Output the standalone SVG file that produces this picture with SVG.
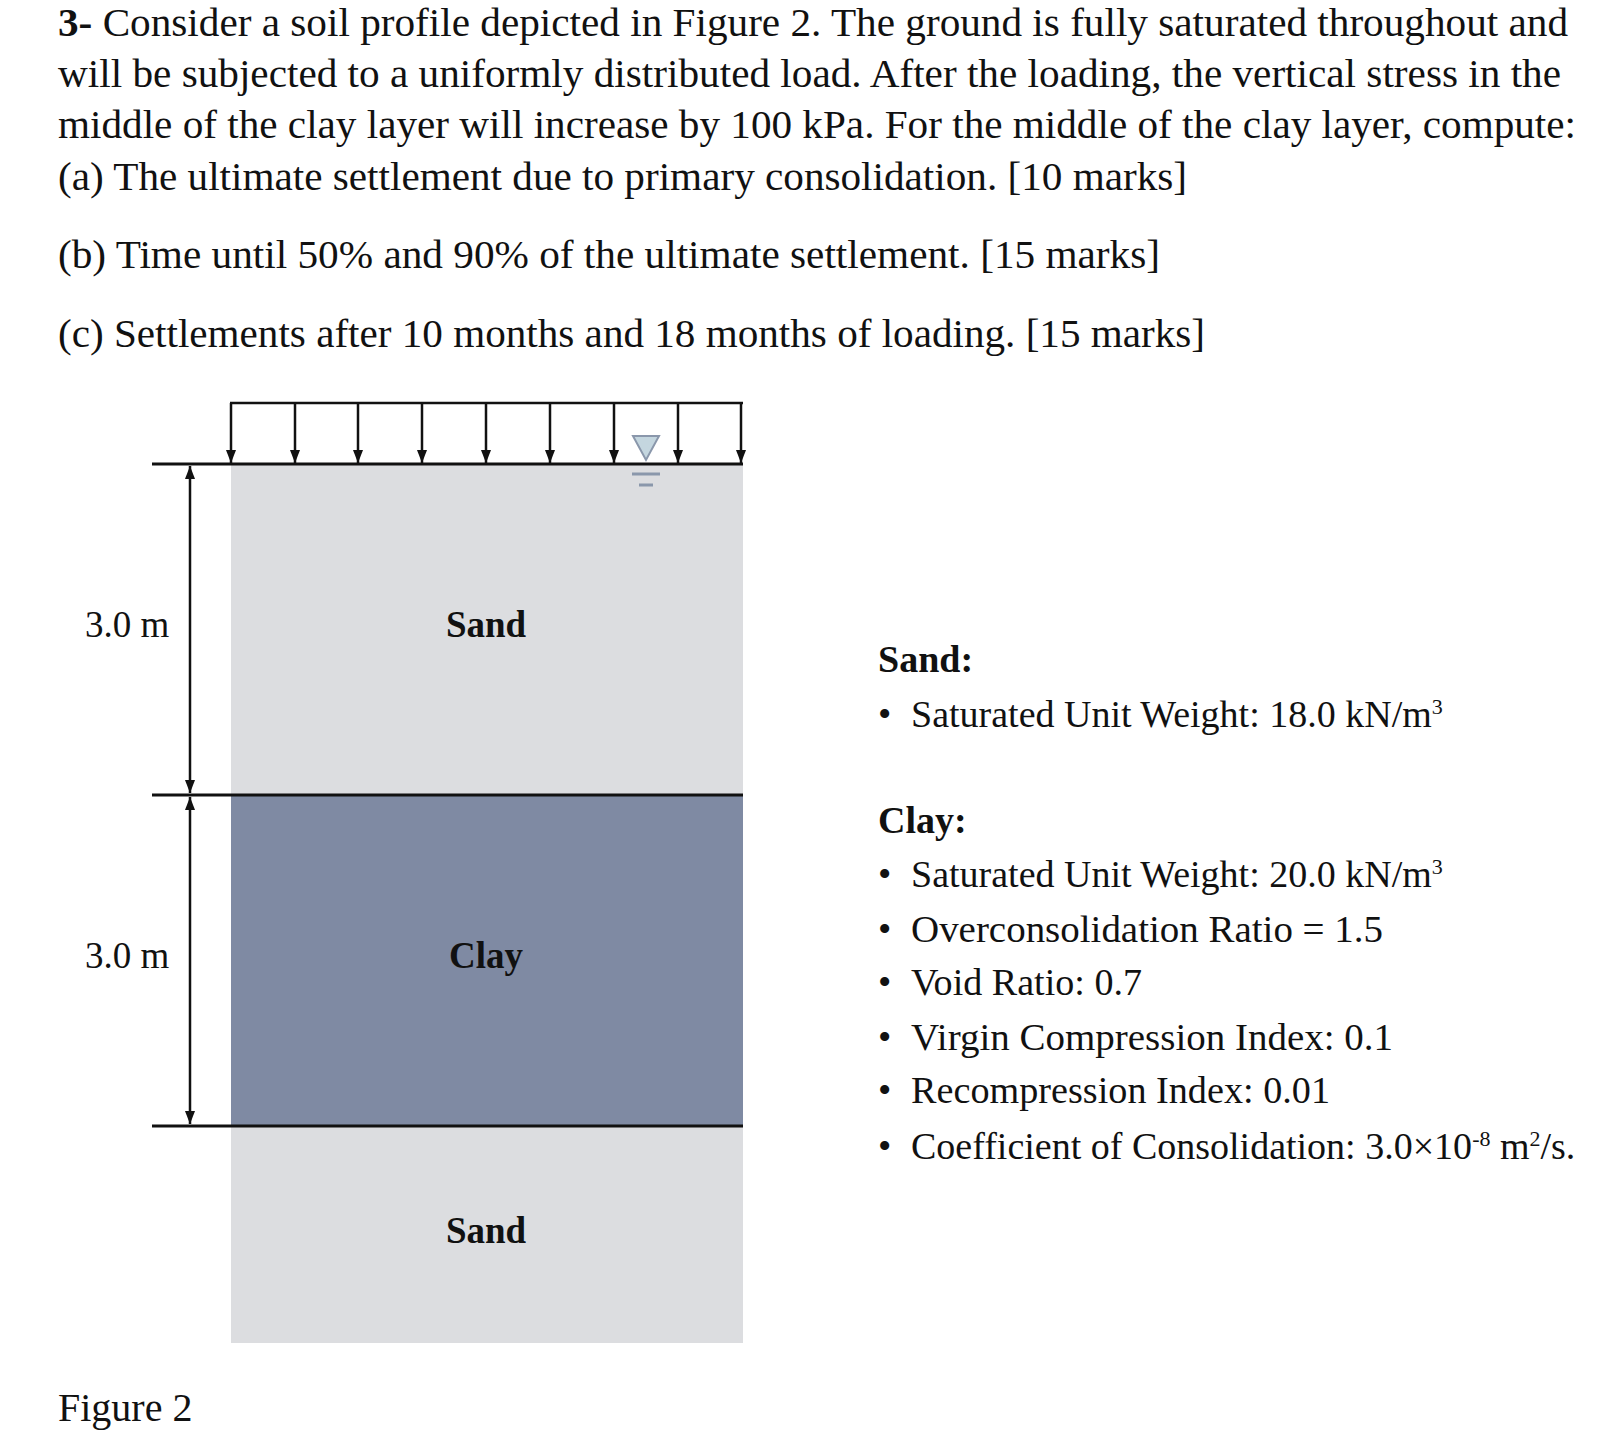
<svg xmlns="http://www.w3.org/2000/svg" width="1624" height="1456" viewBox="0 0 1624 1456">
<defs>
<style>
text{font-family:"Liberation Serif","Times New Roman",serif;fill:#111}
.q{font-size:40px}
.lb{font-size:37px}
.r{font-size:38px}
.b{font-weight:bold}
.ln{stroke:#111;stroke-width:3}
.ar{stroke:#111;stroke-width:2.5}
</style>
<marker id="ah" markerWidth="13" markerHeight="10" refX="13" refY="5" orient="auto-start-reverse" markerUnits="userSpaceOnUse" viewBox="0 0 13 10"><path d="M0,0 L13,5 L0,10z" fill="#111"/></marker>
</defs>
<rect width="1624" height="1456" fill="#fff"/>
<g id="question">
<text class="q" x="58" y="36" textLength="1510" lengthAdjust="spacingAndGlyphs"><tspan class="b">3-</tspan> Consider a soil profile depicted in Figure 2. The ground is fully saturated throughout and</text>
<text class="q" x="58" y="87" textLength="1503" lengthAdjust="spacingAndGlyphs">will be subjected to a uniformly distributed load. After the loading, the vertical stress in the</text>
<text class="q" x="58" y="138" textLength="1518" lengthAdjust="spacingAndGlyphs">middle of the clay layer will increase by 100 kPa. For the middle of the clay layer, compute:</text>
<text class="q" x="58" y="190" textLength="1129" lengthAdjust="spacingAndGlyphs">(a) The ultimate settlement due to primary consolidation. [10 marks]</text>
<text class="q" x="58" y="268" textLength="1102" lengthAdjust="spacingAndGlyphs">(b) Time until 50% and 90% of the ultimate settlement. [15 marks]</text>
<text class="q" x="58" y="347" textLength="1147" lengthAdjust="spacingAndGlyphs">(c) Settlements after 10 months and 18 months of loading. [15 marks]</text>
</g>
<g id="sand-top"><rect x="231" y="464" width="512" height="331" fill="#dcdde0"/><text class="lb b" x="486" y="637" text-anchor="middle">Sand</text></g>
<g id="clay"><rect x="231" y="795" width="512" height="331" fill="#7f8aa3"/><text class="lb b" x="486" y="968" text-anchor="middle">Clay</text></g>
<g id="sand-bottom"><rect x="231" y="1126" width="512" height="217" fill="#dcdde0"/><text class="lb b" x="486" y="1243" text-anchor="middle">Sand</text></g>
<g id="water-table">
<path d="M633,436 L659,436 L646,460z" fill="#c4d6df" stroke="#8a97ab" stroke-width="2"/>
<line x1="632" y1="474" x2="660" y2="474" stroke="#8a97ab" stroke-width="3"/>
<line x1="639" y1="485" x2="653" y2="485" stroke="#8a97ab" stroke-width="3"/>
</g>
<g id="connectors">
<line class="ln" x1="152" y1="464" x2="743" y2="464"/>
<line class="ln" x1="152" y1="795" x2="743" y2="795"/>
<line class="ln" x1="152" y1="1126" x2="743" y2="1126"/>
<line class="ar" x1="230" y1="403" x2="743" y2="403"/>
<g class="ar" marker-end="url(#ah)">
<line x1="231" y1="403" x2="231" y2="463"/><line x1="295" y1="403" x2="295" y2="463"/><line x1="358" y1="403" x2="358" y2="463"/>
<line x1="422" y1="403" x2="422" y2="463"/><line x1="486" y1="403" x2="486" y2="463"/><line x1="550" y1="403" x2="550" y2="463"/>
<line x1="614" y1="403" x2="614" y2="463"/><line x1="678" y1="403" x2="678" y2="463"/><line x1="741" y1="403" x2="741" y2="463"/>
</g>
<line class="ar" x1="190" y1="466" x2="190" y2="793" marker-start="url(#ah)" marker-end="url(#ah)"/>
<line class="ar" x1="190" y1="797" x2="190" y2="1124" marker-start="url(#ah)" marker-end="url(#ah)"/>
</g>
<g id="dims">
<text class="lb" x="85" y="637">3.0 m</text>
<text class="lb" x="85" y="968">3.0 m</text>
<text class="q" x="58" y="1421">Figure 2</text>
</g>
<g id="properties">
<text class="r b" x="878" y="672">Sand:</text>
<text class="r" x="878" y="727">•</text><text class="r" x="911" y="727">Saturated Unit Weight: 18.0 kN/m<tspan font-size="22" dy="-13">3</tspan></text>
<text class="r b" x="878" y="833">Clay:</text>
<text class="r" x="878" y="887">•</text><text class="r" x="911" y="887">Saturated Unit Weight: 20.0 kN/m<tspan font-size="22" dy="-13">3</tspan></text>
<text class="r" x="878" y="942">•</text><text class="r" x="911" y="942" textLength="472" lengthAdjust="spacingAndGlyphs">Overconsolidation Ratio = 1.5</text>
<text class="r" x="878" y="995">•</text><text class="r" x="911" y="995" textLength="231" lengthAdjust="spacingAndGlyphs">Void Ratio: 0.7</text>
<text class="r" x="878" y="1050">•</text><text class="r" x="911" y="1050" textLength="482" lengthAdjust="spacingAndGlyphs">Virgin Compression Index: 0.1</text>
<text class="r" x="878" y="1103">•</text><text class="r" x="911" y="1103" textLength="419" lengthAdjust="spacingAndGlyphs">Recompression Index: 0.01</text>
<text class="r" x="878" y="1159">•</text><text class="r" x="911" y="1159">Coefficient of Consolidation: 3.0×10<tspan font-size="22" dy="-13">-8</tspan><tspan dy="13"> m</tspan><tspan font-size="22" dy="-13">2</tspan><tspan dy="13">/s.</tspan></text>
</g>
</svg>
